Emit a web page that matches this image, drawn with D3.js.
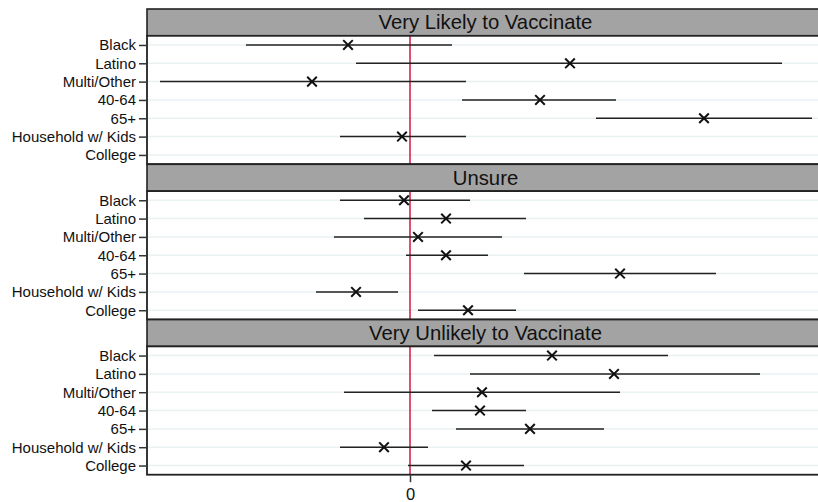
<!DOCTYPE html>
<html>
<head>
<meta charset="utf-8">
<script src="https://cdn.jsdelivr.net/npm/d3@7"></script>
<style>
  html, body { margin: 0; padding: 0; background: #fff; }
  svg { display: block; font-family: "Liberation Sans", Arial, Helvetica, sans-serif; }
</style>
</head>
<body>
<svg id="chart" width="818" height="502"></svg>
<script>
// ---- Data ----
const categories = ["Black", "Latino", "Multi/Other", "40-64", "65+", "Household w/ Kids", "College"];
const panels = ["Very Likely to Vaccinate", "Unsure", "Very Unlikely to Vaccinate"];
const xTicks = [0];

// Very Likely to Vaccinate (College not estimated)
const likelyEst = [-0.31, 0.80, -0.49, 0.65, 1.47, -0.04, null];
const likelyLo  = [-0.82, -0.27, -1.25, 0.26, 0.93, -0.35, null];
const likelyHi  = [0.21, 1.86, 0.28, 1.03, 2.01, 0.28, null];

// Unsure
const unsureEst = [-0.03, 0.18, 0.04, 0.18, 1.05, -0.27, 0.29];
const unsureLo  = [-0.35, -0.23, -0.38, -0.02, 0.57, -0.47, 0.04];
const unsureHi  = [0.30, 0.58, 0.46, 0.39, 1.53, -0.06, 0.53];

// Very Unlikely to Vaccinate
const unlikelyEst = [0.71, 1.02, 0.36, 0.35, 0.60, -0.13, 0.28];
const unlikelyLo  = [0.12, 0.30, -0.33, 0.11, 0.23, -0.35, -0.01];
const unlikelyHi  = [1.29, 1.75, 1.05, 0.58, 0.97, 0.09, 0.57];

const panelData = [
  {est: likelyEst, lo: likelyLo, hi: likelyHi},
  {est: unsureEst, lo: unsureLo, hi: unsureHi},
  {est: unlikelyEst, lo: unlikelyLo, hi: unlikelyHi}
];

// ---- Layout ----
const svg = d3.select("#chart");
const left = 147, right = 824;
const firstTop = 9, pitch = 155.3, stripH = 26.8, plotH = 128.3;
const dark = "#222";

const x = d3.scaleLinear().domain([-1.315, 2.07]).range([left, left + (2.07 + 1.315) * 200]);

panels.forEach((title, pi) => {
  const top = firstTop + pi * pitch;
  const pTop = top + stripH;
  const pBot = pTop + plotH;
  const g = svg.append("g");

  // strip
  g.append("rect").attr("x", left).attr("y", top).attr("width", right - left).attr("height", stripH)
    .attr("fill", "#a3a3a3").attr("stroke", dark).attr("stroke-width", 1.6);
  g.append("text").attr("x", (left + right) / 2).attr("y", top + stripH / 2 + 7)
    .attr("text-anchor", "middle").attr("font-size", 20.3).attr("fill", "#111").text(title);

  // plot background
  g.append("rect").attr("x", left).attr("y", pTop).attr("width", right - left).attr("height", plotH)
    .attr("fill", "#fff");

  const y = d3.scalePoint().domain(categories).range([pTop, pBot]).padding(0.5);

  // gridlines
  g.selectAll(".grid").data(categories).join("line")
    .attr("x1", left).attr("x2", right)
    .attr("y1", d => y(d)).attr("y2", d => y(d))
    .attr("stroke", "#eaf1f3").attr("stroke-width", 1.5);

  // zero line
  g.append("line").attr("x1", x(0)).attr("x2", x(0)).attr("y1", pTop).attr("y2", pBot)
    .attr("stroke", "#d4143f").attr("stroke-width", 1.5);

  const d = panelData[pi];
  const rows = categories.map((c, i) => ({c, est: d.est[i], lo: d.lo[i], hi: d.hi[i]}))
    .filter(r => r.est !== null);

  // CI lines
  g.selectAll(".ci").data(rows).join("line")
    .attr("x1", r => x(r.lo)).attr("x2", r => x(r.hi))
    .attr("y1", r => y(r.c)).attr("y2", r => y(r.c))
    .attr("stroke", dark).attr("stroke-width", 1.5);

  // X markers
  const s = 4.8;
  g.selectAll(".mk").data(rows).join("path")
    .attr("d", r => {
      const cx = x(r.est), cy = y(r.c);
      return `M${cx - s},${cy - s}L${cx + s},${cy + s}M${cx - s},${cy + s}L${cx + s},${cy - s}`;
    })
    .attr("stroke", "#111").attr("stroke-width", 2).attr("fill", "none");

  // plot border
  g.append("rect").attr("x", left).attr("y", pTop).attr("width", right - left).attr("height", plotH)
    .attr("fill", "none").attr("stroke", dark).attr("stroke-width", 1.8);

  // y axis
  const yAxis = d3.axisLeft(y).tickSize(7).tickPadding(3);
  const ya = g.append("g").attr("transform", `translate(${left - 1},0)`).call(yAxis);
  ya.select(".domain").remove();
  ya.selectAll(".tick line").attr("stroke", "#333").attr("stroke-width", 1.5);
  ya.selectAll(".tick text").attr("font-size", 15).attr("fill", "#111")
    .attr("font-family", "'Liberation Sans', Arial, sans-serif");

  if (pi === panels.length - 1) {
    const xAxis = d3.axisBottom(x).tickValues(xTicks).tickFormat(d3.format("d")).tickSize(7).tickPadding(6.5);
    const xa = g.append("g").attr("transform", `translate(0,${pBot + 0.5})`).call(xAxis);
    xa.select(".domain").remove();
    xa.selectAll(".tick line").attr("stroke", "#333").attr("stroke-width", 1.5);
    xa.selectAll(".tick text").attr("font-size", 16.5).attr("fill", "#111")
      .attr("font-family", "'Liberation Sans', Arial, sans-serif");
  }
});
</script>
</body>
</html>
